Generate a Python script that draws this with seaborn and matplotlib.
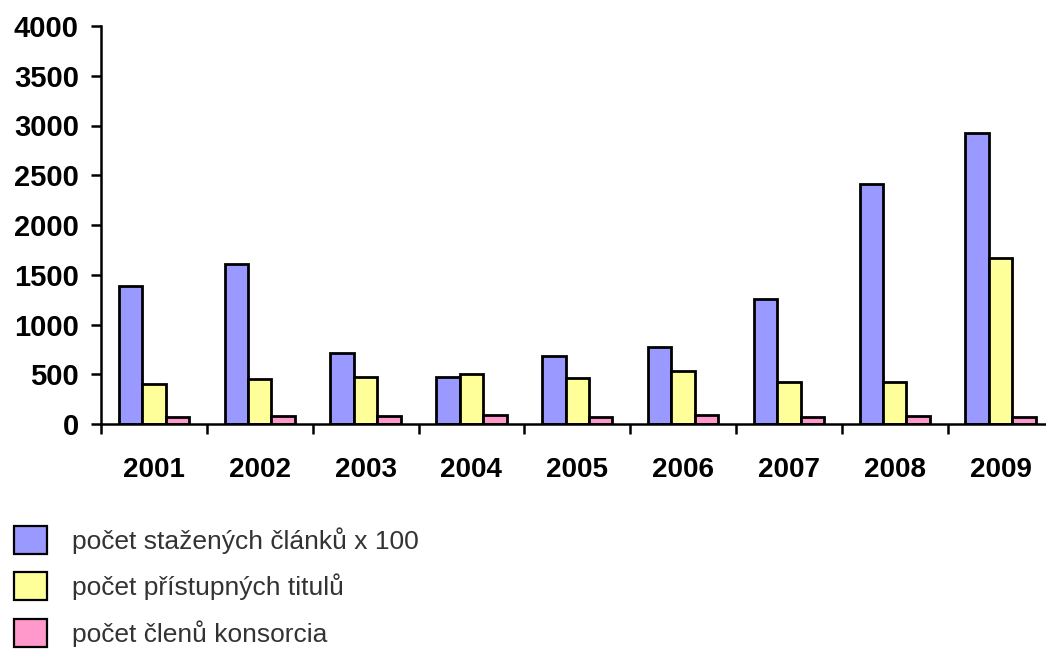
import numpy as np
import pandas as pd
import seaborn as sns
from matplotlib import pyplot as plt
from matplotlib.patches import Patch

years = ["2001", "2002", "2003", "2004", "2005", "2006", "2007", "2008", "2009"]
downloads_x100 = [1390, 1610, 713, 469, 683, 774, 1256, 2412, 2921]
titles = [402, 452, 472, 502, 462, 536, 419, 419, 1671]
members = [70, 83, 85, 93, 73, 90, 67, 77, 70]

series = ["počet stažených článků x 100", "počet přístupných titulů", "počet členů konsorcia"]
colors = ["#9999FF", "#FFFF99", "#FF99CC"]

df = pd.DataFrame({
    "year": years * 3,
    "value": downloads_x100 + titles + members,
    "series": [series[0]] * 9 + [series[1]] * 9 + [series[2]] * 9,
})

sns.set_style("white")
plt.rcParams["font.family"] = ["Liberation Sans", "DejaVu Sans"]

fig = plt.figure(figsize=(10.46, 6.49), dpi=100)
ax = fig.add_axes([101 / 1046, 225 / 649, (1053.5 - 101) / 1046, 398 / 649])

sns.barplot(data=df, x="year", y="value", hue="series", hue_order=series,
            palette=colors, width=0.665, gap=0, edgecolor="black",
            linewidth=2.0, legend=False, ax=ax, saturation=1)

ax.set_xlim(-0.5, 8.5)
ax.set_ylim(0, 4000)
ax.set_yticks(np.arange(0, 4001, 500))
ax.set_xlabel("")
ax.set_ylabel("")

# category boundaries carry the ticks, year labels sit between them
ax.set_xticks(np.arange(-0.5, 9, 1))
ax.set_xticklabels([])
ax.set_xticks(range(9), minor=True)
ax.set_xticklabels(years, minor=True, fontsize=20, fontweight="bold", color="black")
ax.tick_params(axis="x", which="major", bottom=True, direction="out", length=7,
               width=1.8, color="black")
ax.tick_params(axis="x", which="minor", bottom=True, length=0, pad=24)
ax.tick_params(axis="y", left=True, direction="out", length=7, width=1.8,
               color="black", pad=9, labelcolor="black")
for lab in ax.get_yticklabels():
    lab.set_fontsize(21)
    lab.set_fontweight("bold")

sns.despine(ax=ax)
for side in ["left", "bottom"]:
    ax.spines[side].set_linewidth(1.8)
    ax.spines[side].set_color("black")

handles = [Patch(facecolor=c, edgecolor="black", linewidth=1.6) for c in colors]
fig.legend(handles, series, loc="upper left", bbox_to_anchor=(14 / 1046, 1 - 526 / 649),
           bbox_transform=fig.transFigure, frameon=False, fontsize=19,
           borderpad=0, borderaxespad=0,
           handlelength=1.25, handleheight=1.25, handletextpad=0.95,
           labelspacing=0.7, labelcolor="#333333")

fig.savefig("out.png", dpi=100)
